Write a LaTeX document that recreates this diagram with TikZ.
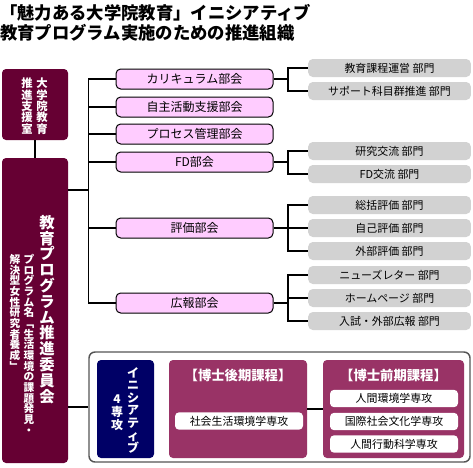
\documentclass[tikz,border=0pt]{standalone}
\usepackage{fontspec}
\setmainfont{Noto Sans CJK JP}
\usepackage{tikz}
\usetikzlibrary{positioning}

\definecolor{ebi}{HTML}{660033}
\definecolor{budou}{HTML}{993366}
\definecolor{kon}{HTML}{000066}
\definecolor{momo}{HTML}{FFCCFF}
\definecolor{nezumi}{HTML}{D2D2D2}
\definecolor{waku}{HTML}{555555}

% vertical stack of characters
\def\vtxtA#1{\ifx\relax#1\else\hbox to 1em{\hss#1\hss}\expandafter\vtxtA\fi}
\newcommand\vtxt[2][1.0]{\vbox{\baselineskip=#1em\lineskiplimit=-\maxdimen\vtxtA#2\relax}}

\begin{document}
\begin{tikzpicture}[x=0.75pt, y=-0.75pt,
    darkbox/.style={fill=ebi, rounded corners=3pt, inner sep=0pt},
    bukai/.style={draw, line width=0.75pt, fill=momo, rounded corners=3.5pt, minimum width=117.75pt, minimum height=15pt, inner sep=0pt, font=\fontsize{9}{10}\selectfont},
    bumon/.style={fill=nezumi, rounded corners=3.5pt, minimum width=122pt, minimum height=13.5pt, inner sep=0pt, font=\fontsize{8.2}{9}\selectfont},
    senko/.style={fill=white, rounded corners=3pt, minimum width=96pt, minimum height=13pt, inner sep=0pt, font=\fontsize{8.2}{9}\selectfont},
    katei/.style={fill=budou, rounded corners=3pt, minimum height=73.5pt, inner sep=0pt},
    vcol/.style={text=white, inner sep=0pt, anchor=north},
    conn/.style={line width=1.1pt}
]

\useasboundingbox (0,0) rectangle (473,467);

\node[anchor=west, inner sep=0pt, font=\fontsize{13}{14}\selectfont\bfseries] (title1) at (0,13) {「魅力ある大学院教育」イニシアティブ};
\node[anchor=west, inner sep=0pt, font=\fontsize{13}{14}\selectfont\bfseries] (title2) at (0,33) {教育プログラム実施のための推進組織};

% left column
\node[darkbox, minimum width=49.5pt, minimum height=53.25pt] (shitsu) at (35,104.5) {};
\node[vcol, font=\fontsize{8.5}{9}\selectfont\bfseries] at (42,78) {\vtxt{大学院教育}};
\node[vcol, font=\fontsize{8.5}{9}\selectfont\bfseries] at (27,78) {\vtxt{推進支援室}};

\node[darkbox, minimum width=49.5pt, minimum height=228.75pt] (iin) at (35,310.5) {};
\node[vcol, font=\fontsize{11.5}{12}\selectfont\bfseries] at (47,215) {\vtxt[1.03]{教育プログラム推進委員会}};
\node[vcol, font=\fontsize{8}{9}\selectfont\bfseries] at (29,254) {\vtxt[1.0]{プログラム名﹁生活環境の課題発見・}};
\node[vcol, font=\fontsize{8}{9}\selectfont\bfseries] at (15,254) {\vtxt[1.0]{解決型女性研究者養成﹂}};

\draw[conn] (shitsu.south) -- (iin.north);

% bukai
\node[bukai] (kari) at (194.5,79) {カリキュラム部会};
\node[bukai] (jishu) at (194.5,107) {自主活動支援部会};
\node[bukai] (proc) at (194.5,134) {プロセス管理部会};
\node[bukai] (fd) at (194.5,162) {FD部会};
\node[bukai] (hyoka) at (194.5,228) {評価部会};
\node[bukai] (koho) at (194.5,303) {広報部会};

\coordinate (trunk) at (89,190);
\draw[conn] (kari.west) -- ++(-27,0) |- (koho.west);
\foreach \b in {jishu,proc,fd,hyoka}
  \draw[conn] (\b.west) -- ++(-27,0);
\draw[conn] (iin.east |- trunk) -- (trunk);

% bumon
\node[bumon] (kyoiku) at (389.5,68) {教育課程運営 部門};
\node[bumon] (support) at (389.5,91) {サポート科目群推進 部門};
\node[bumon] (kenkyu) at (389.5,151) {研究交流 部門};
\node[bumon] (fdkoryu) at (389.5,174) {FD交流 部門};
\node[bumon] (sokatsu) at (389.5,205) {総括評価 部門};
\node[bumon] (jiko) at (389.5,228) {自己評価 部門};
\node[bumon] (gaibu) at (389.5,251) {外部評価 部門};
\node[bumon] (news) at (389.5,275) {ニューズレター 部門};
\node[bumon] (home) at (389.5,298) {ホームページ 部門};
\node[bumon] (nyushi) at (389.5,321) {入試・外部広報 部門};

\foreach \p/\f/\l in {kari/kyoiku/support, fd/kenkyu/fdkoryu, hyoka/sokatsu/gaibu, koho/news/nyushi}{
  \draw[conn] (\p.east) -- ++(15,0);
  \draw[conn] (\f.west) -- ++(-20,0) |- (\l.west);
}
\draw[conn] (jiko.west) -- ++(-20,0);
\draw[conn] (home.west) -- ++(-20,0);

% bottom frame
\node[draw=waku, line width=1.1pt, fill=white, rounded corners=4.5pt, minimum width=285.75pt, minimum height=82.5pt] (frame) at (279.5,407) {};
\draw[conn] (iin.east |- frame.west) -- (frame.west);

\node[fill=kon, rounded corners=3pt, minimum width=42.75pt, minimum height=73.5pt] (init) at (125.5,409) {};
\node[vcol, font=\fontsize{9}{10}\selectfont\bfseries] at (133,367) {\vtxt[1.05]{イニシアティブ}};
\node[vcol, font=\fontsize{9}{10}\selectfont\bfseries] at (117,395) {\vtxt[1.05]{4専攻}};

\node[katei, minimum width=103.5pt] (kouki) at (238,409) {};
\node[text=white, font=\fontsize{10}{11}\selectfont\bfseries] at (238,375) {【博士後期課程】};
\node[senko] (shakai) at (239,421) {社会生活環境学専攻};

\node[katei, minimum width=105.75pt] (zenki) at (393.5,409) {};
\node[text=white, font=\fontsize{10}{11}\selectfont\bfseries] at (393.5,375) {【博士前期課程】};
\node[senko] (ningen) at (394,398.5) {人間環境学専攻};
\node[senko] (kokusai) at (394,421.5) {国際社会文化学専攻};
\node[senko] (kodo) at (394,444) {人間行動科学専攻};

\draw[conn] (kouki.east) -- (zenki.west);

\end{tikzpicture}
\end{document}
